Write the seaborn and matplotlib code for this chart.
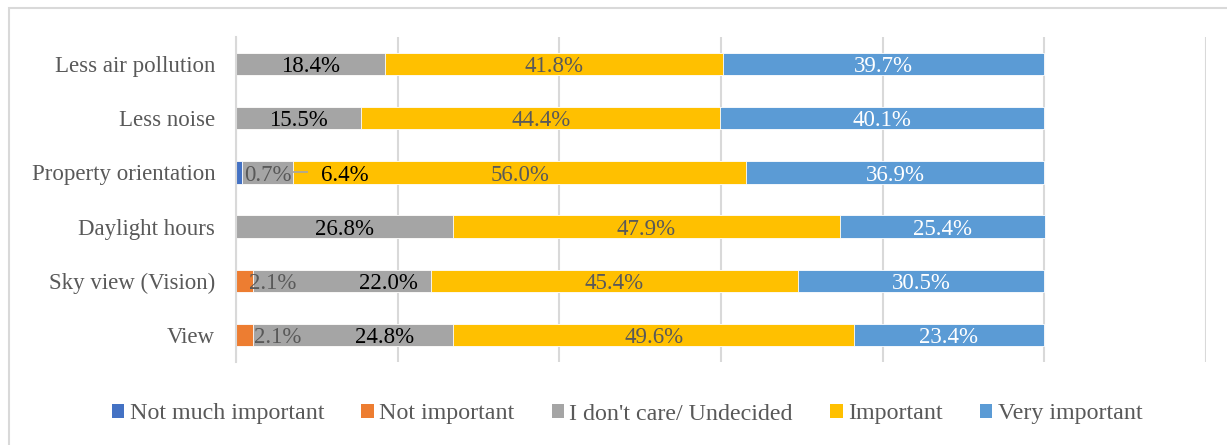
import matplotlib
matplotlib.use("Agg")
import matplotlib.pyplot as plt
from matplotlib.patches import Patch, Rectangle
import numpy as np
import pandas as pd
import seaborn as sns

# Survey results: share of respondents per importance level (%)
categories = ["Less air pollution", "Less noise", "Property orientation",
              "Daylight hours", "Sky view (Vision)", "View"]
series_names = ["Not much important", "Not important",
                "I don't care/ Undecided", "Important", "Very important"]
not_much_important = [0.0, 0.0, 0.7, 0.0, 0.0, 0.0]
not_important = [0.0, 0.0, 0.0, 0.0, 2.1, 2.1]
dont_care = [18.4, 15.5, 6.4, 26.8, 22.0, 24.8]
important = [41.8, 44.4, 56.0, 47.9, 45.4, 49.6]
very_important = [39.7, 40.1, 36.9, 25.4, 30.5, 23.4]

series_values = [not_much_important, not_important, dont_care,
                 important, very_important]

colors = ["#4472C4", "#ED7D31", "#A5A5A5", "#FFC000", "#5B9BD5"]
label_colors = ["#595959", "#595959", "#000000", "#595959", "#FFFFFF"]

# Hand-placed label shifts (percentage points) for crowded small segments
label_nudge = {(2, 0): 3.55, (2, 2): 9.55, (4, 1): 3.45, (4, 2): 5.8,
               (5, 1): 4.15, (5, 2): 3.9}

FONT = "Liberation Serif"
FS = 16.5
LEG_FS = 17.3
GRID = "#D9D9D9"
TEXT = "#595959"

sns.set_theme(style="white")
plt.rcParams["font.family"] = [FONT, "DejaVu Serif"]

fig = plt.figure(figsize=(12.27, 4.45), dpi=100)
ax = fig.add_axes([236 / 1227, 1 - 362 / 445, (1206 - 236) / 1227, (362 - 37) / 445])

vals = np.array(series_values, dtype=float)
cum = np.cumsum(vals, axis=0)

# Stacked horizontal bars: draw cumulative totals from widest to narrowest
for i in range(len(series_names) - 1, -1, -1):
    df = pd.DataFrame({"category": categories, "value": cum[i]})
    sns.barplot(data=df, x="value", y="category", order=categories,
                color=colors[i], width=0.41, orient="h", ax=ax,
                edgecolor="white", linewidth=0.6, saturation=1)

# Segment value labels
for i, name in enumerate(series_names):
    for r in range(len(categories)):
        v = vals[i, r]
        if v <= 0:
            continue
        start = cum[i, r] - v
        xpos = start + v / 2 + label_nudge.get((r, i), 0.0)
        ax.text(xpos, r + 0.05, f"{v:.1f}%", ha="center", va="center",
                fontsize=FS, color=label_colors[i], family=FONT)

# Leader line for the relocated 6.4% label
r_po = categories.index("Property orientation")
ax.plot([cum[2, r_po], cum[2, r_po] + 1.8], [r_po, r_po], color="#A5A5A5",
        lw=1.2, solid_capstyle="butt", zorder=5)

ax.set_xlim(0, 120)
ax.set_ylim(len(categories) - 0.5, -0.5)
ax.set_xticks(np.arange(0, 121, 20))
ax.set_xticklabels([])
ax.tick_params(axis="x", length=0)
ax.grid(axis="x", color=GRID, lw=1.5)
ax.set_axisbelow(True)
ax.set_xlabel("")
ax.set_ylabel("")

ax.set_yticks(range(len(categories)))
ax.set_yticklabels(categories, fontsize=FS, color=TEXT, family=FONT)
ax.tick_params(axis="y", which="major", length=0, pad=15)
ax.set_yticks(np.arange(-0.5, len(categories), 1.0), minor=True)
ax.tick_params(axis="y", which="minor", length=6, width=1.5, color=GRID,
               direction="out")

for s in ["top", "right", "bottom"]:
    ax.spines[s].set_visible(False)
ax.spines["left"].set_color(GRID)
ax.spines["left"].set_linewidth(1.5)

handles = [Patch(facecolor=c, edgecolor="none") for c in colors]
fig.legend(handles, series_names, loc="center", ncol=5,
           bbox_to_anchor=(627 / 1227, 1 - 414 / 445), frameon=False,
           prop={"family": FONT, "size": LEG_FS}, labelcolor=TEXT,
           handlelength=0.52, handleheight=0.52, handletextpad=0.22,
           columnspacing=1.55, borderpad=0)

# Light chart-area border
fig.patches.append(Rectangle((9 / 1227, -0.1), 1.2, 1 - 8 / 445 + 0.1,
                             transform=fig.transFigure, fill=False,
                             edgecolor=GRID, lw=1.5))

fig.savefig("out.png", dpi=100)
